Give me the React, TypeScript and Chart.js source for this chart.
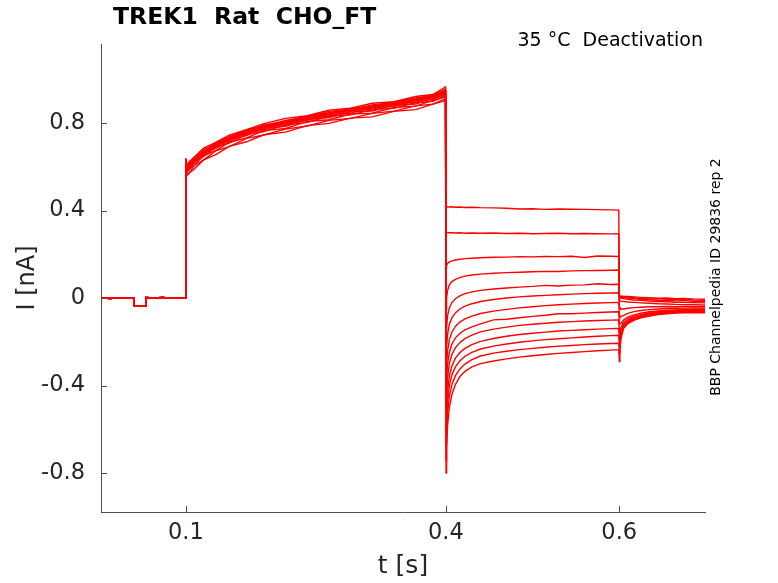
import { useEffect, useRef } from "react";
import { Chart } from "chart.js/auto";

// time bases of the protocol segments [s]
const baseT = [0.002, 0.012, 0.022, 0.032, 0.0398, 0.0402, 0.0535, 0.0539, 0.063, 0.073, 0.083, 0.093, 0.0998];
const actT = [0.1, 0.1003, 0.104, 0.11, 0.12, 0.135, 0.15, 0.17, 0.19, 0.215, 0.24, 0.265, 0.29, 0.315, 0.34, 0.365, 0.385, 0.3996];
const tailT = [0.4002, 0.4008, 0.402, 0.404, 0.407, 0.411, 0.416, 0.422, 0.43, 0.44, 0.455, 0.47, 0.485, 0.5, 0.515, 0.53, 0.545, 0.56, 0.575, 0.59, 0.5995];
const postT = [0.6002, 0.6008, 0.602, 0.605, 0.61, 0.617, 0.625, 0.635, 0.645, 0.655, 0.665, 0.675, 0.685, 0.699];

// holding current before the activation step [nA]
const baseI = [0.002, -0.002, 0.001, -0.001, 0.0, -0.034, -0.035, 0.002, 0.0, 0.003, -0.001, 0.002, 0.001];

// activation step, one row per sweep [nA]
const actI = [
  [0.635, 0.605, 0.624, 0.645, 0.684, 0.712, 0.744, 0.77, 0.797, 0.821, 0.833, 0.859, 0.868, 0.89, 0.897, 0.921, 0.93, 0.965],
  [0.64, 0.6, 0.612, 0.646, 0.672, 0.713, 0.735, 0.769, 0.786, 0.812, 0.83, 0.853, 0.862, 0.883, 0.894, 0.914, 0.926, 0.955],
  [0.628, 0.597, 0.616, 0.637, 0.676, 0.705, 0.737, 0.762, 0.791, 0.806, 0.832, 0.846, 0.867, 0.876, 0.896, 0.907, 0.928, 0.95],
  [0.632, 0.596, 0.607, 0.64, 0.667, 0.708, 0.729, 0.765, 0.782, 0.808, 0.825, 0.847, 0.859, 0.878, 0.889, 0.91, 0.921, 0.946],
  [0.625, 0.592, 0.611, 0.632, 0.67, 0.699, 0.732, 0.756, 0.785, 0.8, 0.826, 0.84, 0.86, 0.87, 0.89, 0.902, 0.922, 0.942],
  [0.63, 0.59, 0.601, 0.637, 0.66, 0.704, 0.723, 0.761, 0.777, 0.803, 0.819, 0.843, 0.853, 0.873, 0.883, 0.905, 0.915, 0.94],
  [0.62, 0.587, 0.606, 0.625, 0.667, 0.692, 0.729, 0.749, 0.782, 0.792, 0.824, 0.832, 0.858, 0.862, 0.888, 0.894, 0.92, 0.936],
  [0.618, 0.584, 0.595, 0.63, 0.654, 0.699, 0.716, 0.756, 0.769, 0.799, 0.811, 0.839, 0.845, 0.869, 0.875, 0.901, 0.907, 0.933],
  [0.615, 0.58, 0.599, 0.618, 0.66, 0.685, 0.722, 0.742, 0.775, 0.785, 0.817, 0.825, 0.851, 0.855, 0.881, 0.887, 0.913, 0.928],
  [0.61, 0.576, 0.587, 0.622, 0.646, 0.691, 0.708, 0.748, 0.761, 0.791, 0.803, 0.831, 0.837, 0.861, 0.867, 0.893, 0.899, 0.925],
  [0.605, 0.57, 0.589, 0.608, 0.65, 0.675, 0.712, 0.732, 0.765, 0.775, 0.807, 0.815, 0.841, 0.845, 0.871, 0.877, 0.903, 0.918],
  [0.598, 0.562, 0.573, 0.606, 0.63, 0.674, 0.692, 0.73, 0.745, 0.772, 0.786, 0.812, 0.821, 0.844, 0.854, 0.878, 0.886, 0.91],
  [0.59, 0.555, 0.571, 0.591, 0.63, 0.657, 0.693, 0.714, 0.746, 0.758, 0.788, 0.798, 0.822, 0.828, 0.853, 0.861, 0.886, 0.902],
];

// deactivation step (tail currents), one row per sweep [nA]
const tailI = [
  [0.42, 0.418, 0.417, 0.416, 0.417, 0.415, 0.416, 0.414, 0.415, 0.413, 0.412, 0.41, 0.407, 0.408, 0.405, 0.407, 0.406, 0.405, 0.404, 0.403, 0.402],
  [0.3, 0.299, 0.298, 0.299, 0.298, 0.297, 0.298, 0.296, 0.297, 0.296, 0.297, 0.295, 0.296, 0.294, 0.295, 0.296, 0.294, 0.295, 0.294, 0.293, 0.294],
  [0.14, 0.15, 0.158, 0.165, 0.17, 0.174, 0.177, 0.18, 0.182, 0.184, 0.186, 0.187, 0.189, 0.188, 0.19, 0.189, 0.191, 0.185, 0.192, 0.191, 0.19],
  [-0.05, 0.0, 0.035, 0.06, 0.075, 0.085, 0.093, 0.1, 0.105, 0.109, 0.113, 0.116, 0.118, 0.12, 0.122, 0.121, 0.124, 0.125, 0.126, 0.127, 0.128],
  [-0.2, -0.13, -0.08, -0.045, -0.02, -0.003, 0.01, 0.02, 0.028, 0.035, 0.041, 0.046, 0.05, 0.053, 0.058, 0.055, 0.059, 0.06, 0.065, 0.062, 0.063],
  [-0.3, -0.22, -0.165, -0.12, -0.09, -0.068, -0.05, -0.037, -0.026, -0.016, -0.007, 0.0, 0.005, 0.009, 0.012, 0.015, 0.018, 0.02, 0.022, 0.023, 0.024],
  [-0.38, -0.3, -0.24, -0.19, -0.155, -0.13, -0.11, -0.095, -0.083, -0.071, -0.06, -0.052, -0.045, -0.04, -0.035, -0.031, -0.028, -0.025, -0.023, -0.021, -0.02],
  [-0.46, -0.37, -0.3, -0.25, -0.21, -0.182, -0.162, -0.146, -0.132, -0.118, -0.1, -0.097, -0.09, -0.084, -0.079, -0.072, -0.072, -0.069, -0.066, -0.064, -0.063],
  [-0.53, -0.44, -0.36, -0.3, -0.258, -0.227, -0.204, -0.186, -0.17, -0.155, -0.142, -0.133, -0.125, -0.12, -0.115, -0.111, -0.108, -0.105, -0.103, -0.101, -0.1],
  [-0.6, -0.5, -0.42, -0.355, -0.31, -0.275, -0.25, -0.23, -0.213, -0.198, -0.185, -0.175, -0.167, -0.161, -0.156, -0.151, -0.148, -0.145, -0.142, -0.14, -0.139],
  [-0.67, -0.56, -0.47, -0.4, -0.35, -0.315, -0.288, -0.266, -0.248, -0.233, -0.22, -0.21, -0.202, -0.196, -0.19, -0.186, -0.182, -0.178, -0.175, -0.172, -0.17],
  [-0.74, -0.62, -0.52, -0.45, -0.395, -0.355, -0.325, -0.302, -0.282, -0.265, -0.252, -0.243, -0.236, -0.23, -0.225, -0.22, -0.217, -0.213, -0.21, -0.208, -0.207],
  [-0.8, -0.68, -0.58, -0.5, -0.44, -0.395, -0.36, -0.335, -0.315, -0.3, -0.288, -0.278, -0.27, -0.264, -0.258, -0.253, -0.249, -0.245, -0.241, -0.238, -0.236],
];

// return to holding potential, one row per sweep [nA]
const postI = [
  [0.012, 0.01, 0.009, 0.008, 0.007, 0.005, 0.003, 0.001, -0.001, 0.0, -0.003, -0.002, -0.004, -0.005],
  [0.008, 0.007, 0.006, 0.005, 0.003, 0.001, -0.002, -0.004, -0.003, -0.006, -0.007, -0.006, -0.009, -0.01],
  [0.004, 0.004, 0.003, 0.002, 0.0, -0.003, -0.006, -0.008, -0.01, -0.011, -0.013, -0.012, -0.015, -0.016],
  [0.0, 0.0, -0.001, -0.003, -0.006, -0.009, -0.011, -0.014, -0.016, -0.017, -0.019, -0.02, -0.021, -0.022],
  [-0.01, -0.012, -0.014, -0.016, -0.018, -0.02, -0.022, -0.024, -0.026, -0.027, -0.029, -0.03, -0.03, -0.032],
  [-0.04, -0.045, -0.05, -0.05, -0.047, -0.044, -0.042, -0.04, -0.04, -0.039, -0.04, -0.038, -0.039, -0.04],
  [-0.08, -0.085, -0.085, -0.079, -0.07, -0.062, -0.057, -0.053, -0.05, -0.048, -0.047, -0.046, -0.045, -0.046],
  [-0.12, -0.12, -0.115, -0.1, -0.087, -0.077, -0.069, -0.063, -0.059, -0.056, -0.054, -0.052, -0.051, -0.05],
  [-0.16, -0.15, -0.135, -0.11, -0.095, -0.084, -0.075, -0.068, -0.063, -0.06, -0.057, -0.055, -0.054, -0.054],
  [-0.19, -0.175, -0.15, -0.12, -0.102, -0.09, -0.08, -0.072, -0.067, -0.063, -0.06, -0.058, -0.057, -0.058],
  [-0.22, -0.2, -0.165, -0.127, -0.107, -0.094, -0.084, -0.076, -0.07, -0.066, -0.063, -0.061, -0.06, -0.061],
  [-0.25, -0.22, -0.175, -0.133, -0.112, -0.098, -0.087, -0.079, -0.073, -0.069, -0.066, -0.064, -0.063, -0.064],
  [-0.29, -0.24, -0.185, -0.14, -0.117, -0.102, -0.091, -0.082, -0.076, -0.072, -0.069, -0.067, -0.066, -0.067],
];

const xTicks = [0.1, 0.4, 0.6];
const yTicks = [-0.8, -0.4, 0, 0.4, 0.8];

const TITLE = "TREK1  Rat  CHO_FT";
const SUBTITLE = "35 \u00b0C  Deactivation";
const SIDE_NOTE = "BBP Channelpedia ID 29836 rep 2";

const FONT = "'DejaVu Sans', sans-serif";
const AXIS_COLOR = "#4d4d4d";
const TEXT_COLOR = "#262626";

const decorPlugin = {
  id: "decor",
  afterDraw(chart: any) {
    const { ctx, chartArea, scales } = chart;
    ctx.save();
    // inward tick marks
    ctx.strokeStyle = AXIS_COLOR;
    ctx.lineWidth = 1;
    ctx.beginPath();
    scales.x.ticks.forEach((t: any) => {
      const px = Math.round(scales.x.getPixelForValue(t.value)) + 0.5;
      ctx.moveTo(px, chartArea.bottom);
      ctx.lineTo(px, chartArea.bottom - 6);
    });
    scales.y.ticks.forEach((t: any) => {
      const py = Math.round(scales.y.getPixelForValue(t.value)) + 0.5;
      ctx.moveTo(chartArea.left, py);
      ctx.lineTo(chartArea.left + 6, py);
    });
    ctx.stroke();

    ctx.fillStyle = "#000";
    ctx.textBaseline = "middle";
    ctx.textAlign = "left";
    ctx.font = `bold 23.5px ${FONT}`;
    ctx.fillText(TITLE, 113, 18);

    ctx.font = `19px ${FONT}`;
    ctx.textAlign = "right";
    ctx.fillText(SUBTITLE, 703, 41);

    ctx.font = `14px ${FONT}`;
    ctx.textAlign = "center";
    ctx.translate(716, 277);
    ctx.rotate(-Math.PI / 2);
    ctx.fillText(SIDE_NOTE, 0, 0);
    ctx.restore();
  },
};

export default function App() {
  const canvasRef = useRef<HTMLCanvasElement>(null);
  const chartRef = useRef<Chart | null>(null);

  useEffect(() => {
    if (!canvasRef.current) return;
    if (chartRef.current) chartRef.current.destroy();

    const datasets = actI.map((act, k) => ({
      label: `sweep ${k + 1}`,
      data: [
        ...baseT.map((t, i) => ({ x: t, y: baseI[i] })),
        ...actT.map((t, i) => ({ x: t, y: act[i] })),
        ...tailT.map((t, i) => ({ x: t, y: tailI[k][i] })),
        ...postT.map((t, i) => ({ x: t, y: postI[k][i] })),
      ],
      borderColor: "#ff0000",
      borderWidth: 1.4,
      pointRadius: 0,
      tension: 0,
      fill: false,
    }));

    chartRef.current = new Chart(canvasRef.current, {
      type: "line",
      data: { datasets },
      plugins: [decorPlugin],
      options: {
        animation: false,
        responsive: true,
        maintainAspectRatio: false,
        layout: { padding: { top: 44, right: 73, left: 0, bottom: 0 } },
        plugins: {
          legend: { display: false },
          tooltip: { enabled: false },
        },
        scales: {
          x: {
            type: "linear",
            min: 0.002,
            max: 0.699,
            afterBuildTicks: (s: any) => {
              s.ticks = xTicks.map((v) => ({ value: v }));
            },
            afterFit: (s: any) => {
              s.height = 71;
            },
            grid: { display: false, drawTicks: false },
            border: { display: true, color: AXIS_COLOR, width: 1 },
            ticks: {
              padding: 8,
              color: TEXT_COLOR,
              font: { family: FONT, size: 22.5 },
              callback: (v: any) => String(v),
              maxRotation: 0,
            },
            title: {
              display: true,
              text: "t [s]",
              color: TEXT_COLOR,
              font: { family: FONT, size: 25 },
              padding: { top: 0, bottom: 2 },
            },
          },
          y: {
            type: "linear",
            min: -0.978,
            max: 1.161,
            afterBuildTicks: (s: any) => {
              s.ticks = yTicks.map((v) => ({ value: v }));
            },
            afterFit: (s: any) => {
              s.width = 101;
            },
            grid: { display: false, drawTicks: false },
            border: { display: true, color: AXIS_COLOR, width: 1 },
            ticks: {
              padding: 16,
              color: TEXT_COLOR,
              font: { family: FONT, size: 22.5 },
              callback: (v: any) => String(v),
            },
            title: {
              display: true,
              text: "I [nA]",
              color: TEXT_COLOR,
              font: { family: FONT, size: 24 },
              padding: { top: 13, bottom: 0 },
            },
          },
        },
      },
    });

    return () => {
      if (chartRef.current) {
        chartRef.current.destroy();
        chartRef.current = null;
      }
    };
  }, []);

  return (
    <div style={{ position: "absolute", left: 0, top: 0, width: 778, height: 583, background: "#fff" }}>
      <canvas ref={canvasRef} />
    </div>
  );
}
